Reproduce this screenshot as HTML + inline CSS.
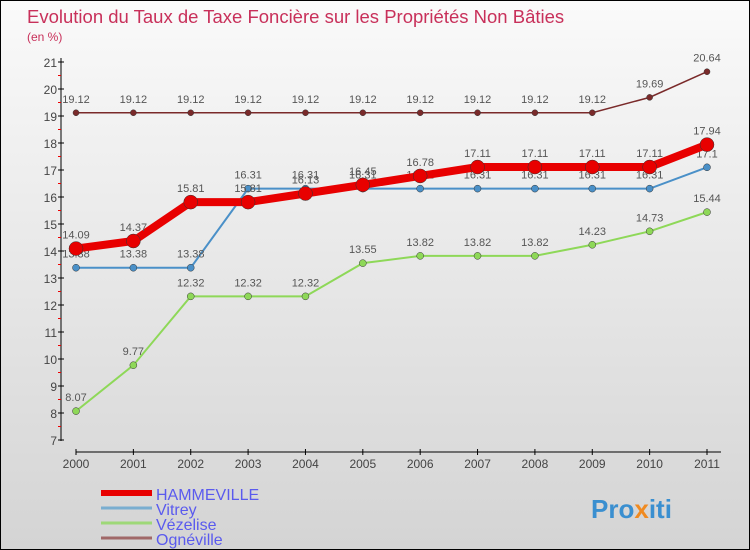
<!DOCTYPE html>
<html><head><meta charset="utf-8"><style>
body{margin:0}
#c{width:750px;height:550px;position:relative;overflow:hidden;border:1px solid #000;box-sizing:border-box;background:linear-gradient(#fafafa,#d4d4d4);font-family:"Liberation Sans",sans-serif}
</style></head><body>
<div id="c">
<svg id="s" width="750" height="550">
<text x="26" y="22" font-size="18.5" fill="#c8305a">Evolution du Taux de Taxe Foncière sur les Propriétés Non Bâties</text>
<text x="26" y="40" font-size="12" fill="#c8305a">(en %)</text>
<text x="590" y="517" font-size="26" font-weight="bold" fill="#3a8fd0">Pro<tspan fill="#f08a20">x</tspan>iti</text>
</svg></div>
<script>
const years=[2000,2001,2002,2003,2004,2005,2006,2007,2008,2009,2010,2011];
const yTicks=[7,8,9,10,11,12,13,14,15,16,17,18,19,20,21];
const hamme=[14.09,14.37,15.81,15.81,16.13,16.45,16.78,17.11,17.11,17.11,17.11,17.94];
const vitrey=[13.38,13.38,13.38,16.31,16.31,16.31,16.31,16.31,16.31,16.31,16.31,17.1];
const vezelise=[8.07,9.77,12.32,12.32,12.32,13.55,13.82,13.82,13.82,14.23,14.73,15.44];
const ogneville=[19.12,19.12,19.12,19.12,19.12,19.12,19.12,19.12,19.12,19.12,19.69,20.64];
const s=document.getElementById('s');const NS='http://www.w3.org/2000/svg';
const X=i=>75+i*(706-75)/(years.length-1);
const Y=v=>439-(v-7)*(439-61)/14;
function mk(t,a,p){const e=document.createElementNS(NS,t);for(const k in a)e.setAttribute(k,a[k]);(p||s).appendChild(e);return e;}
let ax=mk('line',{x1:60,y1:57,x2:60,y2:440,stroke:'#000'});


let ax2=mk('line',{x1:75,y1:451,x2:720,y2:451,stroke:'#000'});


yTicks.forEach(v=>{mk('line',{x1:57,x2:63,y1:Y(v),y2:Y(v),stroke:'#000'});
 if(v<21)mk('line',{x1:57,x2:60,y1:Y(v+0.5),y2:Y(v+0.5),stroke:'#e00'});
 const t=mk('text',{x:56,y:Y(v)+5,'text-anchor':'end','font-size':12,fill:'#444'});t.textContent=v;
 
 });
years.forEach((y,i)=>{mk('line',{x1:X(i),x2:X(i),y1:448,y2:454,stroke:'#000'});
 const t=mk('text',{x:X(i),y:467,'text-anchor':'middle','font-size':12,fill:'#444'});t.textContent=y;
 
 });
function series(d,col,w,r,name,dy){
 const g=mk('g',{});
 
 
 mk('polyline',{points:d.map((v,i)=>X(i)+','+Y(v)).join(' '),fill:'none',stroke:col,'stroke-width':w},g);
 d.forEach((v,i)=>{const c=mk('circle',{cx:X(i),cy:Y(v),r:r,fill:col,stroke:'#333','stroke-width':0.5},g);
  
  
  const t=mk('text',{x:X(i),y:Y(v)+dy,'text-anchor':'middle','font-size':11,fill:'#555'},g);t.textContent=v;});
}
series(vezelise,'#8ed858',2,3.5,'vezelise',-10);
series(vitrey,'#4a90c8',2,3.5,'vitrey',-10);
series(ogneville,'#7a2a2a',1.5,3,'ogneville',-10);
series(hamme,'#e80000',8,7,'hammeville',-10);
const leg=[['HAMMEVILLE','#e80000',6],['Vitrey','#7aaed0',3],['Vézelise','#9ed878',3],['Ognéville','#a06868',3]];
leg.forEach((l,i)=>{const y=492+i*15;
 const g=mk('g',{});
 
 
 mk('line',{x1:100,x2:151,y1:y,y2:y,stroke:l[1],'stroke-width':l[2]},g);
 const t=mk('text',{x:155,y:y+7,'font-size':16,fill:'#5a5aee'},g);t.textContent=l[0];});
</script>
</body></html>
